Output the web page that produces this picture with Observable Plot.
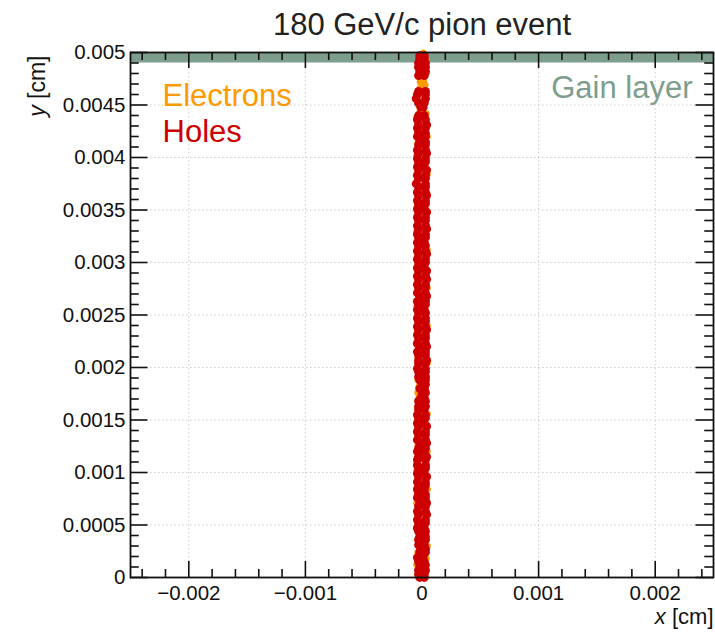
<!DOCTYPE html>
<html>
<head>
<meta charset="utf-8">
<script src="https://cdn.jsdelivr.net/npm/d3@7"></script>
<script src="https://cdn.jsdelivr.net/npm/@observablehq/plot@0.6"></script>
<style>
  html, body { margin: 0; padding: 0; background: #fff; }
</style>
</head>
<body>
<div id="chart"></div>
<script>
// ---- Data (positions in units of 1e-5 cm) ----
const UNIT = 1e-5;
const title = "180 GeV/c pion event";
const xDomain = [-0.0025, 0.0025];
const yDomain = [0, 0.005];
const gainLayer = [0.0049, 0.005];

// holes: [y, x_left, x_right]
const holeRows = [
[0,-2,2],[3,-3,2],[7,-3,3],[12,-2,3],[15,-3,2],[19,-4,1],[24,-2,3],[27,-1,3],[31,-3,2],[36,-3,3],
[39,-2,3],[44,-3,3],[47,-4,2],[52,-3,3],[55,-4,3],[60,-3,4],[63,-4,3],[68,-3,3],[71,-2,4],[76,-4,3],
[79,-3,3],[84,-4,2],[88,-3,3],[91,-4,3],[96,-3,4],[99,-4,2],[104,-3,3],[107,-4,3],[112,-4,3],[115,-3,4],
[120,-4,2],[123,-3,3],[128,-2,4],[131,-4,3],[136,-3,3],[139,-4,3],[144,-3,4],[147,-4,2],[152,-3,3],[155,-4,3],
[160,-3,2],[163,-3,3],[168,-3,3],[171,-1,2],[176,0,3],[180,-2,2],[184,1,3],[188,-2,3],[191,-3,3],[196,-3,3],
[199,-4,3],[204,-3,3],[207,-3,4],[212,-3,3],[215,-4,3],[220,-2,4],[223,-4,3],[228,-3,3],[231,-4,3],[236,-3,4],
[239,-4,3],[244,-3,3],[247,-4,3],[252,-3,3],[255,-4,2],[260,-3,3],[263,-4,3],[268,-2,4],[271,-4,3],[276,-3,3],
[279,-4,3],[284,-3,4],[287,-4,3],[292,-3,4],[295,-4,2],[300,-3,3],[303,-4,3],[308,-3,4],[311,-4,3],[316,-3,3],
[319,-4,2],[324,-3,3],[327,-4,3],[332,-3,4],[335,-4,3],[340,-3,3],[343,-4,3],[348,-3,4],[351,-4,2],[356,-3,3],
[359,-4,3],[364,-3,4],[367,-4,3],[372,-3,3],[375,-5,3],[380,-3,3],[383,-4,3],[388,-3,4],[391,-4,2],[396,-3,3],
[399,-4,3],[404,-3,4],[407,-4,3],[412,-3,3],[415,-2,3],[420,-4,3],[423,-3,3],[428,-4,3],[431,-3,4],[436,-4,3],
[440,-3,2],[448,-1,1],[452,-3,2],[456,-5,3],[460,-4,3],[463,-3,3],[478,-3,2],[482,-2,3],[486,-3,3],[490,-3,3],
[494,-2,2],[497,-2,2]
];

// electrons: [y, x]
const electronRows = [
[2,-4],[6,4],[12,-5],[18,4],[24,-4],[30,5],[36,-4],[42,4],[48,-5],[54,4],[60,-4],[66,4],[71,-5],[76,4],[80,-4],
[84,5],[90,-4],[96,4],[102,-5],[108,4],[114,-4],[120,5],[126,-4],[132,4],[138,-5],[144,4],[150,-4],[156,5],[162,-4],
[168,4],[172,-3],[174,1],[176,-4],[178,-1],[180,3],[182,-3],[184,-1],[186,2],[188,-4],[192,4],[198,-4],[204,5],
[210,-4],[216,4],[222,-5],[228,4],[234,-4],[240,5],[246,-4],[252,4],[258,-5],[264,4],[270,-4],[276,5],[282,-4],
[288,4],[294,-5],[300,4],[306,-4],[312,5],[318,-4],[324,4],[330,-5],[336,4],[342,-4],[348,5],[354,-4],[360,4],
[366,-5],[372,4],[378,-4],[384,5],[390,-4],[396,4],[402,-5],[408,4],[414,-4],[420,5],[426,-4],[432,4],[438,-5],
[442,4],[445,-2],[447,2],[449,-3],[451,1],[456,-5],[466,-2],[466,2],[469,-1],[469,3],[472,-2],[472,2],[475,-1],
[475,1],[480,4],[486,-4],[492,4],[498,-1],[500,1]
];

// ticks
const majorX = [-0.002, -0.001, 0, 0.001, 0.002];
const xTickLabels = ["\u22120.002", "\u22120.001", "0", "0.001", "0.002"];
const minorX = [-0.0024,-0.0022,-0.0018,-0.0016,-0.0014,-0.0012,-0.0008,-0.0006,-0.0004,-0.0002,
                0.0002,0.0004,0.0006,0.0008,0.0012,0.0014,0.0016,0.0018,0.0022,0.0024];
const majorY = [0, 0.0005, 0.001, 0.0015, 0.002, 0.0025, 0.003, 0.0035, 0.004, 0.0045, 0.005];
const yTickLabels = ["0","0.0005","0.001","0.0015","0.002","0.0025","0.003","0.0035","0.004","0.0045","0.005"];
const minorY = [0.0001,0.0002,0.0003,0.0004,0.0006,0.0007,0.0008,0.0009,
                0.0011,0.0012,0.0013,0.0014,0.0016,0.0017,0.0018,0.0019,
                0.0021,0.0022,0.0023,0.0024,0.0026,0.0027,0.0028,0.0029,
                0.0031,0.0032,0.0033,0.0034,0.0036,0.0037,0.0038,0.0039,
                0.0041,0.0042,0.0043,0.0044,0.0046,0.0047,0.0048,0.0049];

// ---- Build tables ----
const holes = [];
for (const [y, l, r] of holeRows) {
  holes.push({x: l * UNIT, y: y * UNIT});
  holes.push({x: r * UNIT, y: y * UNIT});
}
const electrons = electronRows.map(([y, x]) => ({x: x * UNIT, y: y * UNIT}));

// ---- Layout ----
const W = 715, H = 632;
const mTop = 52, mLeft = 130, mRight = 2, mBottom = 55;
const fw = W - mLeft - mRight, fh = H - mTop - mBottom;
const tx = 16, ty = 17.5; // major tick lengths

const orange = "#ff9900", red = "#cc0000", gain = "#7d9e8d";
const black = "#111";

const plot = Plot.plot({
  width: W, height: H,
  marginTop: mTop, marginLeft: mLeft, marginRight: mRight, marginBottom: mBottom,
  style: {fontFamily: "'Liberation Sans', Arial, Helvetica, sans-serif", background: "#fff"},
  x: {domain: xDomain},
  y: {domain: yDomain},
  marks: [
    // grid (the x = 0 line is hidden beneath the track)
    Plot.ruleX(majorX.filter(d => d !== 0), {x: d => d, stroke: "#cdcdcd", strokeDasharray: "1.5,2.5", strokeWidth: 1}),
    Plot.ruleY(majorY.slice(1, -1), {y: d => d, stroke: "#cdcdcd", strokeDasharray: "1.5,2.5", strokeWidth: 1}),
    // gain layer
    Plot.rect([gainLayer], {x1: xDomain[0], x2: xDomain[1], y1: d => d[0], y2: d => d[1], fill: gain}),
    // ticks bottom / top
    Plot.tickX(majorX, {x: d => d, insetTop: fh - tx, stroke: black, strokeWidth: 1.6}),
    Plot.tickX(minorX, {x: d => d, insetTop: fh - tx / 2, stroke: black, strokeWidth: 1.6}),
    Plot.tickX(majorX, {x: d => d, insetBottom: fh - tx, stroke: black, strokeWidth: 1.6}),
    Plot.tickX(minorX, {x: d => d, insetBottom: fh - tx / 2, stroke: black, strokeWidth: 1.6}),
    // ticks left / right
    Plot.tickY(majorY, {y: d => d, insetRight: fw - ty, stroke: black, strokeWidth: 1.6}),
    Plot.tickY(minorY, {y: d => d, insetRight: fw - ty / 2, stroke: black, strokeWidth: 1.6}),
    Plot.tickY(majorY, {y: d => d, insetLeft: fw - ty, stroke: black, strokeWidth: 1.6}),
    Plot.tickY(minorY, {y: d => d, insetLeft: fw - ty / 2, stroke: black, strokeWidth: 1.6}),
    // points (drawn over the ticks, as in the reference)
    Plot.dot(electrons, {x: "x", y: "y", r: 3, fill: orange, stroke: "none"}),
    Plot.dot(holes, {x: "x", y: "y", r: 4.4, fill: red, stroke: "none"}),
    Plot.frame({stroke: black, strokeWidth: 1.8}),
    // axes labels
    Plot.axisX(majorX, {tickSize: 0, tickPadding: 8, fontSize: 20.5, fill: black, label: null,
      tickFormat: d => xTickLabels[majorX.indexOf(d)]}),
    Plot.axisY(majorY, {tickSize: 0, tickPadding: 5, fontSize: 20.5, fill: black, label: null,
      tickFormat: d => yTickLabels[majorY.indexOf(d)]}),
    // texts
    Plot.text([title], {frameAnchor: "top", dy: -18, lineAnchor: "bottom", fontSize: 31, fill: "#222"}),
    Plot.text(["Electrons"], {frameAnchor: "top-left", textAnchor: "start", lineAnchor: "bottom", dx: 32, dy: 53, fontSize: 31, fill: orange}),
    Plot.text(["Holes"], {frameAnchor: "top-left", textAnchor: "start", lineAnchor: "bottom", dx: 32, dy: 89, fontSize: 31, fill: red}),
    Plot.text(["Gain layer"], {frameAnchor: "top-right", textAnchor: "end", lineAnchor: "bottom", dx: -21, dy: 45, fontSize: 31, fill: gain}),
    Plot.text(["x [cm]"], {frameAnchor: "bottom-right", textAnchor: "end", lineAnchor: "bottom", dy: 46, fontSize: 22, fill: black, className: "xlab"}),
    Plot.text(["y [cm]"], {frameAnchor: "top-left", textAnchor: "end", rotate: -90, dx: -102, dy: 3, fontSize: 23, fill: black, className: "ylab"})
  ]
});

// italic axis variable letters
for (const cls of ["xlab", "ylab"]) {
  d3.select(plot).selectAll(`g.${cls} text`).each(function() {
    const t = this.textContent;
    if (t.length > 1) {
      this.textContent = "";
      d3.select(this).append("tspan").attr("font-style", "italic").text(t[0]);
      d3.select(this).append("tspan").text(t.slice(1));
    }
  });
}

document.getElementById("chart").appendChild(plot);
</script>
</body>
</html>
